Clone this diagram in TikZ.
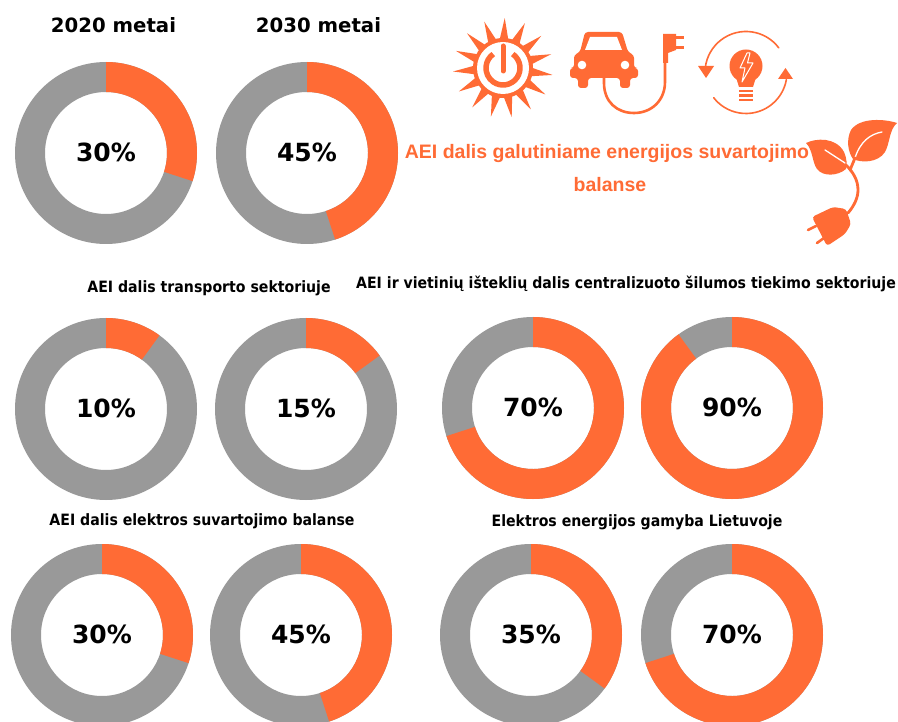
\documentclass[tikz,border=0pt]{standalone}
\usepackage{fontspec}
\setmainfont{DejaVu Sans}
\newfontfamily\lblfont[FakeStretch=0.905]{DejaVu Sans}
\newfontfamily\orgfont{Liberation Sans}
\definecolor{aeiorange}{HTML}{FF6B35}
\definecolor{aeigray}{HTML}{999999}
\tikzset{
  yearlbl/.style={font=\fontsize{19.7}{22}\selectfont\bfseries,text=black,inner sep=0pt},
  pctlbl/.style={font=\fontsize{25}{28}\selectfont\bfseries,text=black,inner sep=0pt},
  seclbl/.style={font=\lblfont\fontsize{15.6}{18}\selectfont\bfseries,text=black,inner sep=0pt},
  orglbl/.style={font=\orgfont\fontsize{19.5}{22}\selectfont\bfseries,text=aeiorange,inner sep=0pt},
  icon/.style={fill=aeiorange,draw=none},
  iconline/.style={draw=aeiorange,line cap=round,line join=round,fill=none},
}
\newcommand{\donut}[4]{%
  \fill[aeigray,even odd rule] (#1,#2) circle[radius=91pt] (#1,#2) circle[radius=61pt];
  \pgfmathsetmacro{\endang}{-90+3.6*#3}
  \fill[aeiorange] ([shift={(#1,#2)}]-90:91pt) arc[start angle=-90,end angle=\endang,radius=91pt]
     -- ([shift={(#1,#2)}]\endang:61pt) arc[start angle=\endang,end angle=-90,radius=61pt] -- cycle;
  \node[pctlbl] (#4) at (#1,#2-0.3) {#3\%};
}
\begin{document}
\begin{tikzpicture}[x=1pt,y=1pt,yscale=-1]
\useasboundingbox (0,0) rectangle (898,722);
\fill[white] (0,0) rectangle (898,722);
\clip (0,0) rectangle (898,722);
% titles
\node[yearlbl] (y20) at (113.5,25) {2020 metai};
\node[yearlbl] (y30) at (318.5,25) {2030 metai};
\node[seclbl] (s1) at (209,288) {AEI dalis transporto sektoriuje};
\node[seclbl] (s2) at (626,284) {AEI ir vietinių išteklių dalis centralizuoto šilumos tiekimo sektoriuje};
\node[seclbl] (s3) at (202,521) {AEI dalis elektros suvartojimo balanse};
\node[seclbl] (s4) at (637,522) {Elektros energijos gamyba Lietuvoje};
\node[orglbl] (o1) at (607,154) {AEI dalis galutiniame energijos suvartojimo};
\node[orglbl] (o2) at (610,185) {balanse};
% donuts
\donut{106}{153}{30}{d1}
\donut{307}{153}{45}{d2}
\donut{106}{409}{10}{d3}
\donut{306}{409}{15}{d4}
\donut{533}{408}{70}{d5}
\donut{732}{408}{90}{d6}
\donut{102}{635}{30}{d7}
\donut{301}{635}{45}{d8}
\donut{531}{635}{35}{d9}
\donut{732}{635}{70}{d10}
% sun
\foreach \a in {-88,-64,-40,-16,8,32,56,80,104,128,152,176,200,224,248}{
  \fill[icon] ([shift={(503,68)}]\a-10:27pt) -- ([shift={(503,68)}]\a:50pt) -- ([shift={(503,68)}]\a+10:27pt) -- cycle;
}
\fill[icon] (503,68) circle[radius=30pt];
\fill[white] (503,68) circle[radius=26pt];
\draw[iconline,line width=5.5pt,line cap=butt] ([shift={(503,68)}]-55:17pt) arc[start angle=-55,end angle=235,radius=17pt];
\draw[white,line width=9pt] (503,44) -- (503,68);
\draw[iconline,line width=5pt] (503,46) -- (503,71);
% car
\fill[icon,rounded corners=3pt] (570,68) -- (574,68) -- (574,55) -- (580,52) -- (585,32) -- (622,32) -- (628,52) -- (634,55) -- (634,68) -- (638,68) -- (638,78) -- (630,78) -- (630,88) -- (620,88) -- (620,78) -- (588,78) -- (588,88) -- (578,88) -- (578,78) -- (570,78) -- cycle;
\fill[white] (590,37) -- (617,37) -- (622,50) -- (585,50) -- cycle;
\fill[white] (582,65) circle[radius=4.3pt];
\fill[white] (625,65) circle[radius=4.3pt];
\draw[iconline,line width=2.6pt] (604,78) -- (604,83) .. controls (604,102) and (617,113) .. (634,113) .. controls (652,113) and (665,100) .. (665,82) -- (665,62);
\fill[icon] (663,34) -- (676,34) -- (676,50) -- (668,53) -- (668,63) -- (663,63) -- cycle;
\draw[iconline,line width=3pt,line cap=butt] (675,37.5) -- (684,37.5);
\draw[iconline,line width=3pt,line cap=butt] (675,48) -- (684,48);
% bulb
\fill[icon] (746,66) circle[radius=16.5pt];
\fill[icon] (735,74) -- (757,74) -- (753,87) -- (739,87) -- cycle;
\draw[white,line width=1pt,line join=round] (747,53) -- (740,68) -- (745,68) -- (742,82) -- (753,63) -- (747.5,63) -- (750,53) -- cycle;
\foreach \yy in {91,95.5,100}{
  \draw[aeiorange,line width=2.4pt] (739,\yy) -- (753,\yy);
}
\draw[iconline,line width=1.6pt] ([shift={(746,72.5)}]-37:41pt) arc[start angle=-37,end angle=-173,radius=41pt];
\draw[iconline,line width=1.6pt] ([shift={(746,72.5)}]10:41pt) arc[start angle=10,end angle=142,radius=41pt];
\fill[icon] (698,66) -- (714,66) -- (706,78) -- cycle;
\fill[icon] (778,79) -- (793,79) -- (785.5,68) -- cycle;
% plant
\fill[icon] (806,143) .. controls (816,138) and (836,137) .. (844,152) .. controls (847,159) and (847,164) .. (846,169) .. controls (838,176) and (823,177) .. (817,169) .. controls (812,162) and (813,150) .. (806,143) -- cycle;
\fill[icon] (897,123) .. controls (885,119) and (860,117) .. (851,130) .. controls (846,140) and (848,152) .. (853,159) .. controls (861,163) and (878,163) .. (885,152) .. controls (890,143) and (889,130) .. (897,123) -- cycle;
\draw[white,line width=1.3pt,line cap=round] (825,150) -- (845,163);
\draw[white,line width=1.3pt,line cap=round] (882,132) .. controls (870,134) and (860,142) .. (855,158);
\draw[iconline,line width=2.8pt] (846,165) .. controls (853,172) and (858,180) .. (858,190) .. controls (858,198) and (854,206) .. (848,213);
\draw[iconline,line width=2.8pt] (855,158) -- (850,170);
\fill[icon,rounded corners=3pt] (812,217) -- (833,207) -- (846,209) -- (851,224) -- (845,234) -- (827,246) -- cycle;
\draw[iconline,line width=2.6pt] (816,226) -- (808,230);
\draw[iconline,line width=2.6pt] (824,238) -- (817,243);
\end{tikzpicture}
\end{document}
